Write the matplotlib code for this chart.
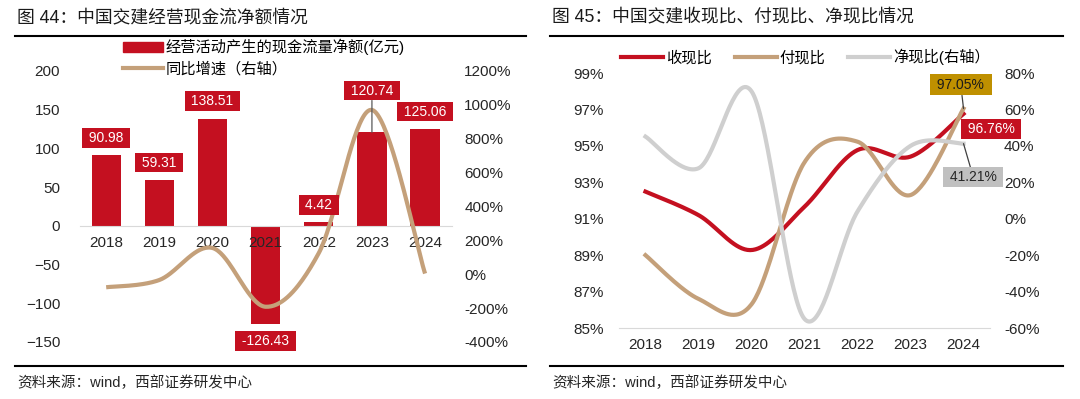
import numpy as np
import matplotlib.pyplot as plt
from matplotlib.lines import Line2D
from matplotlib.patches import Patch
from matplotlib.ticker import FuncFormatter

plt.rcParams['font.family'] = ['Liberation Sans', 'Noto Sans CJK SC']

years = ['2018', '2019', '2020', '2021', '2022', '2023', '2024']

# fig 44: 经营现金流净额 (亿元) and yoy growth (%)
cash_flow = [90.98, 59.31, 138.51, -126.43, 4.42, 120.74, 125.06]
cash_growth = [-77, -34, 155, -192, 125, 970, 4]

# fig 45: ratios (%)
collect_ratio = [92.49, 91.2, 89.28, 91.66, 94.77, 94.41, 96.76]
pay_ratio = [89.0, 86.6, 86.3, 94.1, 95.23, 92.3, 97.05]
net_ratio = [45.1, 27.7, 70.0, -55.0, 4.0, 40.0, 41.21]

RED = '#C41020'
TAN = '#C4A07A'
GRAY = '#CFCFCF'
GOLD = '#BF9000'


def smooth(xs, ys, n=40):
    # catmull-rom style bezier, roughly what excel does for smoothed lines
    p = np.column_stack([xs, ys]).astype(float)
    out = []
    t = np.linspace(0, 1, n)[:, None]
    for i in range(len(p) - 1):
        p0 = p[i - 1] if i > 0 else p[i]
        p3 = p[i + 2] if i + 2 < len(p) else p[i + 1]
        p1, p2 = p[i], p[i + 1]
        c1 = p1 + (p2 - p0) / 6
        c2 = p2 - (p3 - p1) / 6
        seg = (1 - t) ** 3 * p1 + 3 * (1 - t) ** 2 * t * c1 + 3 * (1 - t) * t ** 2 * c2 + t ** 3 * p2
        out.append(seg if i == 0 else seg[1:])
    s = np.vstack(out)
    return s[:, 0], s[:, 1]


fig = plt.figure(figsize=(10.8, 3.99), dpi=100)
x = np.arange(len(years))

# ---------------- left chart ----------------
ax = fig.add_axes([0.0737, 0.1429, 0.4182 - 0.0737, 0.8221 - 0.1429])
ax2 = ax.twinx()
ax.bar(x, cash_flow, width=0.55, color=RED, zorder=1)
sx, sy = smooth(x, cash_growth)
ax2.plot(sx, sy, color=TAN, lw=3, solid_capstyle='butt')

ax.set_xlim(-0.5, 6.5)
ax.set_ylim(-150, 200)
ax.set_yticks(np.arange(-150, 201, 50))
ax2.set_ylim(-400, 1200)
ax2.set_yticks(np.arange(-400, 1201, 200))
ax2.yaxis.set_major_formatter(FuncFormatter(lambda v, p: f'{v:.0f}%'))
ax.set_xticks(x)
ax.set_xticklabels(years)
for a in (ax, ax2):
    for side in ['top', 'left', 'right']:
        a.spines[side].set_visible(False)
    a.spines['bottom'].set_visible(False)
ax.spines['bottom'].set_visible(True)
ax.spines['bottom'].set_position(('data', 0))
ax.spines['bottom'].set_color('#D9D9D9')
ax.tick_params(axis='x', length=0, labelsize=11, pad=7, colors='#262626')
ax.tick_params(axis='y', length=0, labelsize=11, pad=14, colors='#262626')
ax2.tick_params(axis='y', length=0, labelsize=11, pad=9, colors='#262626')

for i, v in enumerate(cash_flow):
    off = 12.5 if v >= 0 else -12.5
    kw = {}
    if i == 5:
        off = 30
        kw = dict(arrowprops=dict(arrowstyle='-', color='#595959', lw=0.9, shrinkA=0, shrinkB=0))
    ax2.annotate(f' {v:.2f} ', xy=(i, v), xycoords=ax.transData, xytext=(0, off),
                 textcoords='offset points', ha='center', va='center', fontsize=10, color='white',
                 bbox=dict(boxstyle='square,pad=0.2', fc=RED, ec='none'), zorder=5, **kw)

handles = [Patch(color=RED), Line2D([], [], color=TAN, lw=3)]
fig.legend(handles, ['经营活动产生的现金流量净额(亿元)', '同比增速（右轴）'], loc='upper left',
           bbox_to_anchor=(123 / 1080, 1 - 39 / 399), frameon=False, fontsize=11,
           borderpad=0, borderaxespad=0, handlelength=2.6, handleheight=0.65,
           handletextpad=0.2, labelspacing=0.4)

# ---------------- right chart ----------------
bx = fig.add_axes([0.5731, 0.1779, 0.9167 - 0.5731, 0.817 - 0.1779])
bx2 = bx.twinx()
rx, ry = smooth(x, collect_ratio)
bx.plot(rx, np.array(ry) / 100, color=RED, lw=3)
tx, ty = smooth(x, pay_ratio)
bx.plot(tx, np.array(ty) / 100, color=TAN, lw=3)
gx, gy = smooth(x, net_ratio)
bx2.plot(gx, np.array(gy) / 100, color=GRAY, lw=3)

bx.set_xlim(-0.5, 6.5)
bx.set_ylim(0.85, 0.99)
bx.set_yticks(np.arange(0.85, 0.9901, 0.02))
bx.yaxis.set_major_formatter(FuncFormatter(lambda v, p: f'{v * 100:.0f}%'))
bx2.set_ylim(-0.6, 0.8)
bx2.set_yticks(np.arange(-0.6, 0.801, 0.2))
bx2.yaxis.set_major_formatter(FuncFormatter(lambda v, p: f'{v * 100:.0f}%'))
bx.set_xticks(x)
bx.set_xticklabels(years)
for a in (bx, bx2):
    for side in ['top', 'left', 'right', 'bottom']:
        a.spines[side].set_visible(False)
bx.spines['bottom'].set_visible(True)
bx.spines['bottom'].set_color('#D9D9D9')
bx.tick_params(axis='x', length=0, labelsize=11, pad=7, colors='#262626')
bx.tick_params(axis='y', length=0, labelsize=11, pad=11, colors='#262626')
bx2.tick_params(axis='y', length=0, labelsize=11, pad=10, colors='#262626')

leader = dict(arrowstyle='-', color='#404040', lw=0.9, shrinkA=0, shrinkB=0)
bx2.annotate(f' {pay_ratio[-1]:.2f}% ', xy=(6, pay_ratio[-1] / 100), xycoords=bx.transData,
             xytext=(-2, 17), textcoords='offset points', ha='center', va='center', fontsize=10,
             color='#1A1A1A', bbox=dict(boxstyle='square,pad=0.25', fc=GOLD, ec='none'),
             arrowprops=leader, zorder=5)
bx2.annotate(f' {collect_ratio[-1]:.2f}% ', xy=(6, collect_ratio[-1] / 100), xycoords=bx.transData,
             xytext=(20, -11), textcoords='offset points', ha='center', va='center', fontsize=10,
             color='white', bbox=dict(boxstyle='square,pad=0.2', fc=RED, ec='none'), zorder=5)
bx2.annotate(f' {net_ratio[-1]:.2f}% ', xy=(6, net_ratio[-1] / 100),
             xytext=(7, -24), textcoords='offset points', ha='center', va='center', fontsize=10,
             color='#262626', bbox=dict(boxstyle='square,pad=0.2', fc='#C0C0C0', ec='none'),
             arrowprops=leader, zorder=5)

handles = [Line2D([], [], color=RED, lw=3), Line2D([], [], color=TAN, lw=3),
           Line2D([], [], color=GRAY, lw=3)]
fig.legend(handles, ['收现比', '付现比', '净现比(右轴）'], loc='center left',
           bbox_to_anchor=(621 / 1080, 1 - 57 / 399), frameon=False, fontsize=11, ncol=3,
           borderpad=0, borderaxespad=0, handlelength=2.75, handletextpad=0.2,
           columnspacing=1.5)

# ---------------- titles, rules, sources ----------------
fig.text(17 / 1080, 1 - 18 / 399, '图 44：中国交建经营现金流净额情况', fontsize=12.8,
         va='center', ha='left', color='#1A1A1A')
fig.text(552 / 1080, 1 - 18 / 399, '图 45：中国交建收现比、付现比、净现比情况', fontsize=12.8,
         va='center', ha='left', color='#1A1A1A')
for x0, x1 in [(15, 526), (550, 1063)]:
    for yy in [36, 366]:
        fig.add_artist(Line2D([x0 / 1080, x1 / 1080], [1 - yy / 399, 1 - yy / 399],
                              color='black', lw=1.5))
fig.text(17 / 1080, 1 - 383 / 399, '资料来源：wind，西部证券研发中心', fontsize=10.5,
         va='center', ha='left', color='#262626')
fig.text(552 / 1080, 1 - 383 / 399, '资料来源：wind，西部证券研发中心', fontsize=10.5,
         va='center', ha='left', color='#262626')

fig.savefig('out.png', dpi=100)
